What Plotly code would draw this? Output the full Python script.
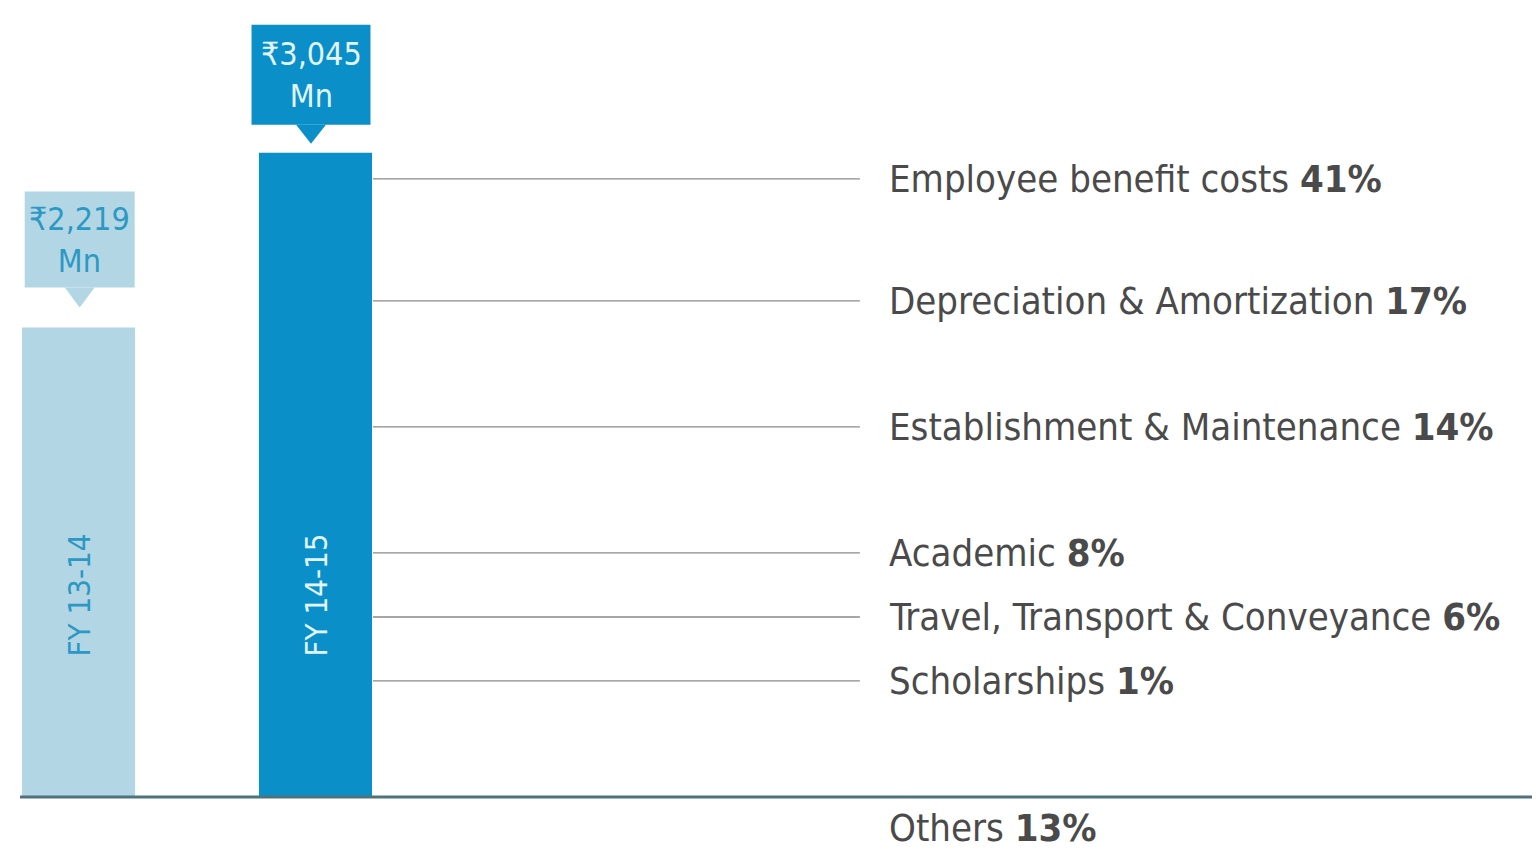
import plotly.graph_objects as go

# data
years = ["FY 13-14", "FY 14-15"]
totals = [2219, 3045]
callouts = ["₹2,219<br>Mn", "₹3,045<br>Mn"]
heads = ["Employee benefit costs", "Depreciation & Amortization", "Establishment & Maintenance",
         "Academic", "Travel, Transport & Conveyance", "Scholarships", "Others"]
shares = [41, 17, 14, 8, 6, 1, 13]

# layout helpers (label rows, in y-axis units)
label_y = [2922, 2345, 1750, 1154, 851, 549, -146]
UPP = 4.727                      # y units per pixel
Y_RANGE = [-250.5, 3729.7]
X_RANGE = [-0.2975, 6.1667]

bar_colors = ["#b3d6e5", "#0b8fc9"]
text_colors = ["#2c98c4", "#e2f5ff"]
FONT = "DejaVu Sans Condensed, Liberation Sans, sans-serif"

fig = go.Figure()
fig.add_trace(go.Bar(x=years, y=totals, width=0.477, marker_color=bar_colors,
                     marker_line_width=0, hoverinfo="skip"))

shapes = []
annotations = []

# callout boxes with down pointers
gaps = [40, 28]      # px between box bottom and bar top
box_h = [96, 100]
tips = [20, 19]
box_x = [(-0.227, 0.237), (0.73, 1.232)]
for i, (v, c) in enumerate(zip(totals, callouts)):
    y0 = v + gaps[i] * UPP
    y1 = y0 + box_h[i] * UPP
    xa, xb = box_x[i]
    cx = (xa + xb) / 2
    shapes.append(dict(type="rect", xref="x", yref="y", x0=xa, x1=xb, y0=y0, y1=y1,
                       fillcolor=bar_colors[i], line_width=0, layer="below"))
    tip = y0 - tips[i] * UPP
    shapes.append(dict(type="path", xref="x", yref="y",
                       path=f"M {cx - 0.063},{y0} L {cx + 0.063},{y0} L {cx},{tip} Z",
                       fillcolor=bar_colors[i], line_width=0, layer="below"))
    annotations.append(dict(x=cx, y=(y0 + y1) / 2, xref="x", yref="y", text=c, showarrow=False,
                            font=dict(family=FONT, size=32, color=text_colors[i]),
                            align="center", yanchor="middle"))
    # vertical year label inside the bar
    annotations.append(dict(x=i, y=955, xref="x", yref="y", text=years[i], showarrow=False,
                            textangle=-90, font=dict(family=FONT, size=31, color=text_colors[i])))

# leader lines and labels
for k, (h, s, ly) in enumerate(zip(heads, shares, label_y)):
    if h != "Others":
        shapes.append(dict(type="line", xref="x", yref="y", x0=1.2426, x1=3.297, y0=ly, y1=ly,
                           line=dict(color="#8a8a8a", width=1.3)))
    annotations.append(dict(x=3.411, y=ly, xref="x", yref="y", xanchor="left", yanchor="middle",
                            text=f"{h} <b>{s}%</b>", showarrow=False,
                            font=dict(family=FONT, size=38, color="#4a4a4a")))

# baseline
shapes.append(dict(type="line", xref="x", yref="y", x0=-0.247, x1=X_RANGE[1], y0=0, y1=0,
                   line=dict(color="#4e737c", width=3)))

fig.update_layout(
    width=1532, height=842,
    margin=dict(l=0, r=0, t=0, b=0),
    paper_bgcolor="white", plot_bgcolor="white",
    showlegend=False,
    shapes=shapes, annotations=annotations,
    xaxis=dict(range=X_RANGE, visible=False, fixedrange=True),
    yaxis=dict(range=Y_RANGE, visible=False, fixedrange=True),
)

fig.write_html("out.html")
